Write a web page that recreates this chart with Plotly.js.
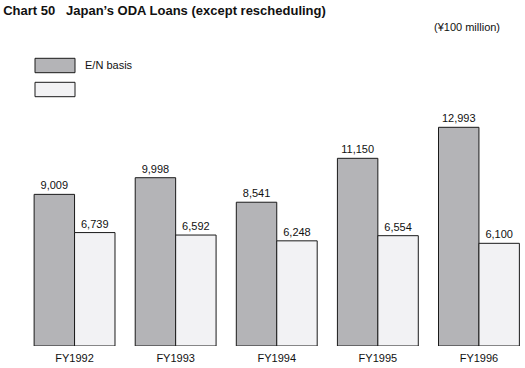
<!DOCTYPE html>
<html>
<head>
<meta charset="utf-8">
<script src="https://cdn.plot.ly/plotly-3.0.1.min.js"></script>
<style>html,body{margin:0;padding:0;background:#fff;}#chart{width:525px;height:368px;}</style>
</head>
<body>
<div id="chart"></div>
<script>
const categories = ["FY1992", "FY1993", "FY1994", "FY1995", "FY1996"];
const enBasis = [9009, 9998, 8541, 11150, 12993];
const secondSeries = [6739, 6592, 6248, 6554, 6100];
const seriesNames = ["E/N basis", ""];

const FONT = "Liberation Sans, Arial, Helvetica, sans-serif";

const traces = [
  {
    type: "bar", x: categories, y: enBasis, name: seriesNames[0],
    marker: {color: "#b4b4b7", line: {color: "#1a1a1a", width: 1}},
    texttemplate: "%{y:,}", textposition: "outside", cliponaxis: false,
    textfont: {family: FONT, size: 11, color: "#111"},
    hoverinfo: "skip", showlegend: false
  },
  {
    type: "bar", x: categories, y: secondSeries, name: seriesNames[1],
    marker: {color: "#f2f2f4", line: {color: "#1a1a1a", width: 1}},
    texttemplate: "%{y:,}", textposition: "outside", cliponaxis: false,
    textfont: {family: FONT, size: 11, color: "#111"},
    hoverinfo: "skip", showlegend: false
  }
];

const layout = {
  width: 525, height: 368,
  margin: {l: 24, r: 0, t: 60, b: 22, pad: 0},
  paper_bgcolor: "#ffffff", plot_bgcolor: "#ffffff",
  font: {family: FONT, size: 11, color: "#111"},
  barmode: "group", bargap: 0.2, bargroupgap: 0,
  title: {
    text: "Chart 50   Japan\u2019s ODA Loans (except rescheduling)",
    font: {family: FONT, size: 13, color: "#111", weight: "bold"},
    x: 0.006, xref: "container", xanchor: "left",
    y: 1 - 10/368, yref: "container", yanchor: "middle"
  },
  xaxis: {
    range: [-0.5, -0.5 + 501/101.1], fixedrange: true,
    showline: false, showgrid: false, zeroline: false, ticks: "",
    ticklabelstandoff: 4,
    tickfont: {family: FONT, size: 11, color: "#111"}
  },
  yaxis: {
    range: [0, 16991], fixedrange: true,
    visible: false, showgrid: false, zeroline: false
  },
  shapes: [
    {type: "rect", xref: "paper", yref: "paper", xsizemode: "pixel", ysizemode: "pixel",
     xanchor: 0, yanchor: 1, x0: 11, x1: 51, y0: 1.7, y1: -12.7,
     fillcolor: "#b4b4b7", line: {color: "#1a1a1a", width: 1}},
    {type: "rect", xref: "paper", yref: "paper", xsizemode: "pixel", ysizemode: "pixel",
     xanchor: 0, yanchor: 1, x0: 11, x1: 51, y0: -22.3, y1: -36.7,
     fillcolor: "#f2f2f4", line: {color: "#1a1a1a", width: 1}}
  ],
  annotations: [
    {text: seriesNames[0], xref: "paper", yref: "paper", x: (83-24)/501, y: (346-65)/286,
     xanchor: "left", yanchor: "middle", showarrow: false,
     font: {family: FONT, size: 11, color: "#111"}},
    {text: "(\u00a5100 million)", xref: "paper", yref: "paper", x: (502-24)/501, y: (346-27)/286,
     xanchor: "right", yanchor: "middle", showarrow: false,
     font: {family: FONT, size: 11, color: "#111"}}
  ]
};

Plotly.newPlot("chart", traces, layout, {displayModeBar: false, staticPlot: true});
</script>
</body>
</html>
